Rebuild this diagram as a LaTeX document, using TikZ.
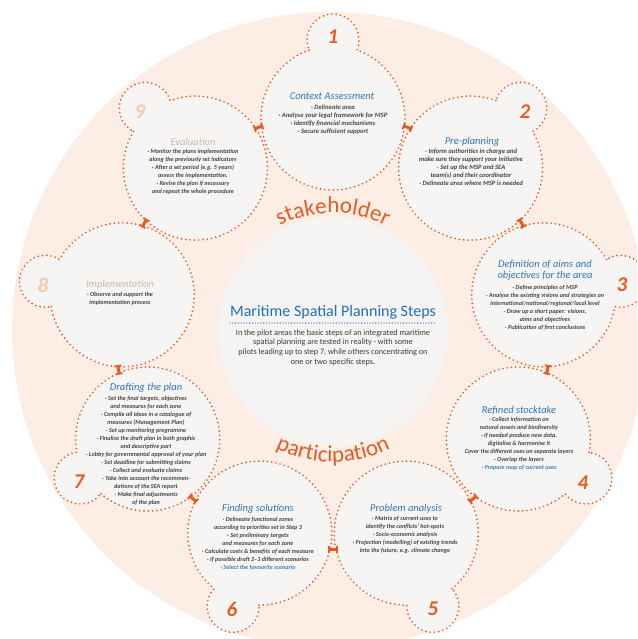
\documentclass[tikz,border=0pt]{standalone}
\usepackage{fontspec}
\setmainfont{Carlito}
\usetikzlibrary{calc,decorations.text,arrows.meta}

\definecolor{peach}{HTML}{FDEEE5}
\definecolor{cellgrey}{HTML}{F6F5F3}
\definecolor{hubgrey}{HTML}{F5F4F2}
\definecolor{accent}{HTML}{E85A23}
\definecolor{accentpale}{HTML}{F8C8A8}
\definecolor{titleblue}{HTML}{2E75B6}
\definecolor{mutedtitle}{HTML}{C8B8B0}
\definecolor{bodytext}{HTML}{454545}
\definecolor{hubtext}{HTML}{3A3A3A}
\definecolor{hubblue}{HTML}{2070B8}
\definecolor{linkblue}{HTML}{3B82C4}

\newcommand{\ringfont}{\fontsize{23}{23}\selectfont\color{accent}}

\begin{document}
\begin{tikzpicture}[x=1pt,y=1pt,
  cellfill/.style={fill=cellgrey},
  celledge/.style={draw=accent, line width=1.9pt, line cap=round, dash pattern=on 0pt off 4.3pt},
  tick/.style={draw=accent, line width=3pt, arrows={Bar[width=7pt,line width=1.6pt]-Bar[width=7pt,line width=1.6pt]}},
  steptitle/.style={font=\fontsize{10.5}{11.5}\selectfont\itshape, text=titleblue, align=center, inner sep=0pt},
  mutedsteptitle/.style={steptitle, text=mutedtitle},
  stepbody/.style={font=\fontsize{6.15}{8}\selectfont\bfseries\itshape, text=bodytext, align=center, inner sep=0pt},
  widebody/.style={stepbody, font=\fontsize{6.6}{8.1}\selectfont\bfseries\itshape},
  stepnum/.style={font=\fontsize{21}{21}\selectfont\bfseries\itshape, text=accent, inner sep=0pt},
  mutedstepnum/.style={stepnum, text=accentpale},
  hubtitle/.style={font=\fontsize{16}{18}\selectfont, text=hubblue, inner sep=0pt},
  hubbody/.style={font=\fontsize{8.2}{9.7}\selectfont, text=hubtext, align=center, inner sep=0pt},
  uline/.style={draw=hubblue, line width=1.3pt, line cap=round, dash pattern=on 0pt off 2.8pt}
]
\useasboundingbox (0,0) rectangle (637,-639);
\clip (0,0) rectangle (637,-639);
\fill[white] (0,0) rectangle (637,-639);

% ring geometry
\coordinate (O) at (333,-332);
\pgfmathsetmacro{\ringR}{214}   % distance of step circles from the hub
\pgfmathsetmacro{\cellr}{72}    % step circle radius
\pgfmathsetmacro{\bumpD}{292}   % distance of number bumps from the hub
\pgfmathsetmacro{\bumpr}{26}    % bump radius
\pgfmathsetmacro{\dd}{\bumpD-\ringR}
\pgfmathsetmacro{\al}{acos((\dd*\dd+\cellr*\cellr-\bumpr*\bumpr)/(2*\dd*\cellr))}
\pgfmathsetmacro{\ga}{180-acos((\dd*\dd+\bumpr*\bumpr-\cellr*\cellr)/(2*\dd*\bumpr))}

% background disc and hub
\fill[peach] (330,-330) circle[radius=318];
\fill[hubgrey] (O) circle[radius=115];

% step circles with their number bumps
\foreach \k/\phi in {1/90,2/50,3/10,4/-30,5/-70,6/-110,7/-150,8/170,9/130} {
  \coordinate (c\k) at ($(O)+(\phi:\ringR)$);
  \path[cellfill] ($(c\k)+(\phi+\al:\cellr)$)
    arc[start angle={\phi+\al}, delta angle={360-2*\al}, radius=\cellr]
    arc[start angle={\phi-\ga}, delta angle={2*\ga}, radius=\bumpr] -- cycle;
}
\foreach \k/\phi in {1/90,2/50,3/10,4/-30,5/-70,6/-110,7/-150,8/170,9/130} {
  \path[celledge] ($(c\k)+(\phi+\al:\cellr)$)
    arc[start angle={\phi+\al}, delta angle={360-2*\al}, radius=\cellr]
    arc[start angle={\phi-\ga}, delta angle={2*\ga}, radius=\bumpr] -- cycle;
}

% links between neighbouring steps
\foreach \k/\n/\phi in {1/2/70,2/3/30,3/4/-10,4/5/-50,5/6/-90,6/7/-130,7/8/-170,8/9/150,9/1/110} {
  \coordinate (t\k) at ($(O)+(\phi:219)$);
  \draw[tick] ($(t\k)!5pt!(c\k)$) -- ($(t\k)!5pt!(c\n)$);
}

% curved captions around the hub
\path[decorate, decoration={text along path, text align=center, text={|\ringfont|stakeholder}}]
  ($(O)+(150:119)$) arc[start angle=150, end angle=30, radius=119];
\path[decorate, decoration={text along path, text align=center, text={|\ringfont|participation}}]
  ($(O)+(208:130)$) arc[start angle=208, end angle=332, radius=130];

% hub text
\node[hubtitle] (hubtitle) at (333,-312) {Maritime Spatial Planning Steps};
\coordinate (ulA) at (230,-323);
\coordinate (ulB) at (437,-323);
\draw[uline] (ulA) -- (ulB);
\node[hubbody] (hubbody) at (333,-347.5) {In the pilot areas the basic steps of an integrated maritime\\spatial planning are tested in reality - with some\\pilots leading up to step 7, while others concentrating on\\one or two specific steps.};

% step numbers
\node[stepnum] (n1) at (333,-37) {1};
\node[stepnum] (n2) at (525,-112) {2};
\node[stepnum] (n3) at (622,-285) {3};
\node[stepnum] (n4) at (583,-483) {4};
\node[stepnum] (n5) at (433,-609) {5};
\node[stepnum] (n6) at (232,-609) {6};
\node[stepnum] (n7) at (79,-482) {7};
\node[mutedstepnum] (n8) at (43,-285) {8};
\node[mutedstepnum] (n9) at (140,-112) {9};

% step 1
\node[steptitle] (s1t) at (332,-96) {Context Assessment};
\node[widebody] (s1b) at (333,-119.5) {· Delineate area\\· Analyse your legal framework for MSP\\· Identify financial mechanisms\\· Secure sufficient support};

% step 2
\node[steptitle] (s2t) at (472,-142) {Pre-planning};
\node[widebody] (s2b) at (471,-167.5) {- Inform authorities in charge and\\make sure they support your initiative\\- Set up the MSP and SEA\\team(s) and their coordinator\\- Delineate area where MSP is needed};

% step 3
\node[steptitle] (s3t) at (545,-270.5) {Definition of aims and\\objectives for the area};
\node[stepbody] (s3b) at (545,-307.5) {- Define principles of MSP\\- Analyse the existing visions and strategies on\\international/national/regional/local level\\- Draw up a short paper: visions,\\aims and objectives\\- Publication of first conclusions};

% step 4
\node[steptitle] (s4t) at (519,-410) {Refined stocktake};
\node[stepbody] (s4b) at (519,-444) {· Collect information on\\natural assets and biodiversity\\· If needed produce new data,\\digitalise \& harmonise it\\Cover the different uses on separate layers\\· Overlap the layers\\\textcolor{linkblue}{· Prepare map of current uses}};

% step 5
\node[steptitle] (s5t) at (406,-509) {Problem analysis};
\node[stepbody] (s5b) at (405,-535) {· Matrix of current uses to\\identify the conflicts' hot-spots\\· Socio-economic analysis\\· Projection (modelling) of existing trends\\into the future, e.g. climate change};

% step 6
\node[steptitle] (s6t) at (258,-509) {Finding solutions};
\node[stepbody] (s6b) at (258,-543.5) {· Delineate functional zones\\according to priorities set in Step 3\\· Set preliminary targets\\and measures for each zone\\· Calculate costs \& benefits of each measure\\· If possible draft 2–3 different scenarios\\\textcolor{linkblue}{· Select the favourite scenario}};

% step 7
\node[steptitle] (s7t) at (146,-388) {Drafting the plan};
\node[stepbody] (s7b) at (146,-450.5) {· Set the final targets, objectives\\and measures for each zone\\- Compile all ideas in a catalogue of\\measures (Management Plan)\\- Set up monitoring programme\\- Finalise the draft plan in both graphic\\and descriptive part\\- Lobby for governmental approval of your plan\\- Set deadline for submitting claims\\- Collect and evaluate claims\\- Take into account the recommen-\\dations of the SEA report\\- Make final adjustments\\of the plan};

% step 8
\node[mutedsteptitle] (s8t) at (120,-285) {Implementation};
\node[stepbody] (s8b) at (120,-299) {· Observe and support the\\implementation process};

% step 9
\node[mutedsteptitle] (s9t) at (193,-142) {Evaluation};
\node[stepbody] (s9b) at (193,-172) {· Monitor the plans implementation\\along the previously set indicators\\· After a set period (e.g. 5 years)\\assess the implementation.\\· Revise the plan if necessary\\and repeat the whole procedure};
\end{tikzpicture}
\end{document}
